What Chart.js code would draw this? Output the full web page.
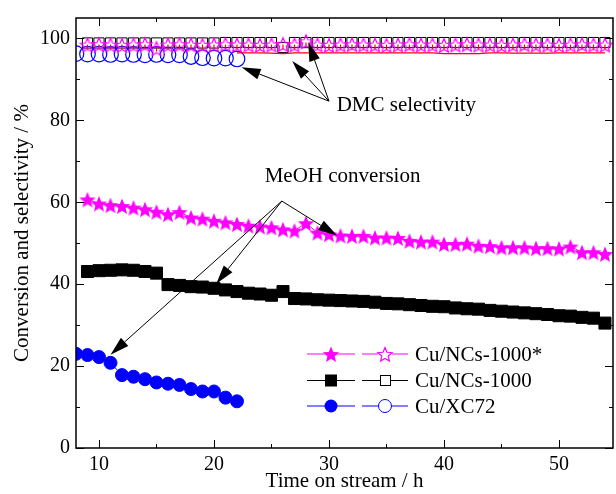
<!DOCTYPE html>
<html>
<head>
<meta charset="utf-8">
<script src="https://cdn.jsdelivr.net/npm/chart.js@4.4.1/dist/chart.umd.min.js"></script>
<style>
  html, body { margin: 0; padding: 0; background: #fff; }
  #wrap { width: 616px; height: 494px; }
</style>
</head>
<body>
<div id="wrap"><canvas id="c" width="616" height="494"></canvas></div>
<script>
// Stability test: MeOH conversion (filled) and DMC selectivity (open) vs time on stream
const hoursLong = [9, 10, 11, 12, 13, 14, 15, 16, 17, 18, 19, 20, 21, 22, 23, 24, 25, 26, 27, 28, 29, 30, 31,
  32, 33, 34, 35, 36, 37, 38, 39, 40, 41, 42, 43, 44, 45, 46, 47, 48, 49, 50, 51, 52, 53, 54]
const hoursShort = [8, 9, 10, 11, 12, 13, 14, 15, 16, 17, 18, 19, 20, 21, 22]
const hoursRedLine = [22, 23, 24, 25, 26, 27, 28, 29, 30, 31, 32, 33, 34, 35, 36, 37, 38, 39, 40, 41, 42, 43,
  44, 45, 46, 47, 48, 49, 50, 51, 52, 53, 54]

// MeOH conversion, %
const convNCs1000s = [60.7, 59.7, 59.3, 59.1, 58.7, 58.3, 57.7, 57.1, 57.6, 56.3, 56.0, 55.5, 55.1, 54.7, 54.3,
  54.1, 53.9, 53.4, 53.1, 54.9, 52.6, 52.2, 51.9, 51.8, 51.8, 51.4, 51.4, 51.3, 50.6, 50.4, 50.4, 49.8, 49.8,
  49.9, 49.4, 49.3, 49.0, 49.0, 49.0, 48.8, 48.8, 48.7, 49.2, 47.8, 47.8, 47.4]
const convNCs1000 = [43.1, 43.3, 43.4, 43.5, 43.4, 43.1, 42.7, 39.9, 39.7, 39.4, 39.3, 39.0, 38.6, 38.2, 37.8,
  37.6, 37.3, 38.2, 36.5, 36.4, 36.2, 36.1, 36.0, 35.9, 35.8, 35.6, 35.3, 35.2, 35.0, 34.8, 34.6, 34.5, 34.2,
  34.0, 33.9, 33.6, 33.4, 33.2, 33.0, 32.8, 32.6, 32.3, 32.2, 31.9, 31.7, 30.5]
const convXC72 = [23.0, 22.7, 22.2, 20.8, 17.8, 17.4, 16.8, 16.0, 15.7, 15.4, 14.4, 13.8, 13.8, 12.3, 11.4]

// DMC selectivity, %
const selNCs1000s = [98.5, 98.6, 98.5, 98.4, 98.5, 98.6, 97.6, 98.5, 98.6, 98.5, 98.4, 98.5, 98.6, 98.5, 98.5,
  98.4, 98.5, 98.6, 98.5, 99.3, 98.5, 98.4, 98.5, 98.6, 98.5, 98.5, 98.4, 98.5, 98.6, 98.5, 98.5, 98.4, 98.5,
  98.6, 98.5, 98.5, 98.4, 98.5, 98.6, 98.5, 98.5, 98.4, 98.5, 98.6, 98.5, 98.5]
const selNCs1000 = [98.9, 98.9, 98.9, 98.9, 98.9, 98.9, 98.9, 98.9, 98.9, 98.9, 98.9, 98.9, 99.0, 99.0, 99.0,
  99.0, 99.0, 97.8, 99.0, 99.0, 99.0, 99.0, 99.0, 99.0, 99.0, 99.0, 99.0, 99.0, 99.0, 99.0, 99.0, 99.0, 99.0,
  99.0, 99.0, 99.0, 99.0, 99.0, 99.0, 99.0, 99.0, 99.0, 99.0, 99.0, 99.0, 99.0]
const selXC72 = [96.3, 96.2, 96.2, 96.1, 96.2, 96.1, 96.0, 96.1, 96.0, 96.0, 95.6, 95.3, 95.2, 95.2, 95.0]
const selRedMarks = [97.9, 97.9, 97.9, 97.9, 97.9, 97.9, 97.4, 97.9, 97.9, 97.9, 97.9, 97.9, 97.9, 97.9, 97.9,
  97.9, 97.9, 97.9, 97.9, 98.4, 97.9, 97.9, 97.9, 97.9, 97.9, 97.9, 97.9, 97.9, 97.9, 97.9, 97.9, 97.9, 97.9,
  97.9, 97.9, 97.9, 97.9, 97.9, 97.9, 97.9, 97.9, 97.9, 97.9, 97.9, 97.9, 97.9]
const selRedLine = [96.5, 96.5, 96.5, 96.4, 96.3, 96.5, 96.5, 96.5, 96.5, 96.5, 96.5, 96.5, 96.5, 96.5, 96.5,
  96.5, 96.5, 96.5, 96.3, 96.3, 96.3, 96.3, 96.5, 96.5, 96.4, 96.4, 96.4, 96.4, 96.5, 96.5, 96.5, 96.5, 96.5]

const legendLabels = ['Cu/NCs-1000*', 'Cu/NCs-1000', 'Cu/XC72']
const xMajor = [10, 20, 30, 40, 50]
const xMinor = [15, 25, 35, 45]
const yMajor = [0, 20, 40, 60, 80, 100]
const yMinor = [10, 30, 50, 70, 90]

const MAG = '#ff00ff', BLU = '#0000ff', BLK = '#000000', RED = '#ff0000'
const FONT = "'Liberation Serif', 'Times New Roman', serif"

function pts(xs, ys) { return xs.map((x, i) => ({ x, y: ys[i] })) }

function starImage(r, filled, color) {
  const c = document.createElement('canvas')
  const s = Math.ceil(r * 2 + 3)
  c.width = s; c.height = s
  const g = c.getContext('2d')
  g.beginPath()
  for (let i = 0; i < 10; i++) {
    const a = -Math.PI / 2 + i * Math.PI / 5
    const rr = i % 2 ? r * 0.45 : r
    g.lineTo(s / 2 + rr * Math.cos(a), s / 2 + 1 + rr * Math.sin(a))
  }
  g.closePath()
  if (filled) { g.fillStyle = color; g.fill() } else { g.strokeStyle = color; g.lineWidth = 1.2; g.stroke() }
  return c
}
const starFilled = starImage(8.5, true, MAG)
const starOpen = starImage(7.5, false, MAG)

function arrow(ctx, x0, y0, x1, y1) {
  const ang = Math.atan2(y1 - y0, x1 - x0), L = 19, W = 5.5
  const bx = x1 - L * Math.cos(ang), by = y1 - L * Math.sin(ang)
  ctx.beginPath(); ctx.moveTo(x0, y0); ctx.lineTo(bx, by); ctx.stroke()
  ctx.beginPath()
  ctx.moveTo(x1, y1)
  ctx.lineTo(bx + W * Math.sin(ang), by - W * Math.cos(ang))
  ctx.lineTo(bx - W * Math.sin(ang), by + W * Math.cos(ang))
  ctx.closePath(); ctx.fill()
}

// frame with inward ticks on all four sides
const framePlugin = {
  id: 'frame',
  afterDatasetsDraw(chart) {
    const { ctx, chartArea: a, scales: { x, y } } = chart
    ctx.save()
    ctx.strokeStyle = BLK
    ctx.lineWidth = 1
    ctx.beginPath()
    const tx = (v, len) => {
      const p = Math.round(x.getPixelForValue(v)) + 0.5
      ctx.moveTo(p, a.bottom); ctx.lineTo(p, a.bottom - len)
      ctx.moveTo(p, a.top); ctx.lineTo(p, a.top + len)
    }
    const ty = (v, len) => {
      const p = Math.round(y.getPixelForValue(v)) + 0.5
      ctx.moveTo(a.left, p); ctx.lineTo(a.left + len, p)
      ctx.moveTo(a.right, p); ctx.lineTo(a.right - len, p)
    }
    xMajor.forEach(v => tx(v, 8)); xMinor.forEach(v => tx(v, 4))
    yMajor.forEach(v => ty(v, 8)); yMinor.forEach(v => ty(v, 4))
    ctx.stroke()
    ctx.lineWidth = 1.5
    ctx.strokeRect(a.left, a.top, a.right - a.left, a.bottom - a.top)
    ctx.restore()
  }
}

// arrows, labels and the two-marker legend
const notesPlugin = {
  id: 'notes',
  afterDraw(chart) {
    const { ctx, scales: { x, y } } = chart
    const px = v => x.getPixelForValue(v), py = v => y.getPixelForValue(v)
    ctx.save()
    ctx.strokeStyle = BLK; ctx.fillStyle = BLK; ctx.lineWidth = 1
    const dmcFrom = [30.0, 84.7]
    ;[[22.4, 93.0], [26.8, 94.5], [28.2, 99.1]].forEach(t => arrow(ctx, px(dmcFrom[0]), py(dmcFrom[1]), px(t[0]), py(t[1])))
    const meohFrom = [25.9, 60.3]
    ;[[30.7, 51.9], [20.2, 40.1], [11.0, 22.8]].forEach(t => arrow(ctx, px(meohFrom[0]), py(meohFrom[1]), px(t[0]), py(t[1])))
    ctx.font = '21px ' + FONT
    ctx.textBaseline = 'middle'; ctx.textAlign = 'left'
    ctx.fillText('DMC selectivity', px(30.67), py(83.7))
    ctx.fillText('MeOH conversion', px(24.41), py(66.3))

    // legend
    const rows = [354, 380.5, 406]
    const colors = [MAG, BLK, BLU]
    rows.forEach((ry, i) => {
      const c = colors[i]
      ctx.strokeStyle = c; ctx.fillStyle = c; ctx.lineWidth = 1
      ctx.beginPath()
      ctx.moveTo(307, ry); ctx.lineTo(355, ry)
      ctx.moveTo(362, ry); ctx.lineTo(408, ry)
      ctx.stroke()
      if (i === 0) {
        ctx.drawImage(starFilled, 331 - starFilled.width / 2, ry - starFilled.height / 2)
        ctx.fillStyle = '#fff'
        ctx.fillRect(385 - 7, ry - 7, 14, 14)
        ctx.drawImage(starOpen, 385 - starOpen.width / 2, ry - starOpen.height / 2)
      } else if (i === 1) {
        ctx.fillRect(325, ry - 6, 12, 12)
        ctx.fillStyle = '#fff'; ctx.fillRect(380, ry - 5, 10, 10)
        ctx.strokeRect(380.5, ry - 5, 10, 10)
      } else {
        ctx.beginPath(); ctx.arc(331, ry, 6.5, 0, Math.PI * 2); ctx.fill()
        ctx.fillStyle = '#fff'
        ctx.beginPath(); ctx.arc(385, ry, 6.5, 0, Math.PI * 2); ctx.fill(); ctx.stroke()
      }
      ctx.fillStyle = BLK
      ctx.font = '21px ' + FONT
      ctx.fillText(legendLabels[i], 415, ry + 1)
    })
    ctx.restore()
  }
}

new Chart(document.getElementById('c'), {
  type: 'scatter',
  data: {
    datasets: [
      { label: legendLabels[0] + ' sel', data: pts(hoursLong, selNCs1000s), pointStyle: starOpen, showLine: false },
      { label: 'red marks', data: pts(hoursLong, selRedMarks), pointStyle: 'line', rotation: 90, pointRadius: 2.5,
        borderColor: RED, borderWidth: 1.2, showLine: false },
      { label: 'red line', data: pts(hoursRedLine, selRedLine), pointRadius: 0, showLine: true, borderColor: RED,
        borderWidth: 1.3 },
      { label: legendLabels[2] + ' sel', data: pts(hoursShort, selXC72), pointStyle: 'circle', pointRadius: 7.8,
        borderColor: BLU, backgroundColor: 'rgba(0,0,0,0)', borderWidth: 1.2, showLine: false },
      { label: legendLabels[1] + ' sel', data: pts(hoursLong, selNCs1000), pointStyle: 'rect', pointRadius: 7.2,
        borderColor: BLK, backgroundColor: 'rgba(0,0,0,0)', borderWidth: 1, showLine: false },
      { label: legendLabels[0], data: pts(hoursLong, convNCs1000s), pointStyle: starFilled, showLine: true,
        borderColor: MAG, borderWidth: 1 },
      { label: legendLabels[1], data: pts(hoursLong, convNCs1000), pointStyle: 'rect', pointRadius: 8.5,
        borderColor: BLK, backgroundColor: BLK, borderWidth: 1, showLine: true },
      { label: legendLabels[2], data: pts(hoursShort, convXC72), pointStyle: 'circle', pointRadius: 6.5,
        borderColor: BLU, backgroundColor: BLU, borderWidth: 1, showLine: true }
    ]
  },
  options: {
    responsive: false,
    animation: false,
    devicePixelRatio: 1,
    layout: { autoPadding: false, padding: { top: 13, right: 3, left: 0, bottom: 0 } },
    plugins: { legend: { display: false }, tooltip: { enabled: false } },
    elements: { point: { hoverRadius: 0 } },
    scales: {
      x: {
        type: 'linear', min: 8, max: 54.7,
        grid: { display: false, drawTicks: false }, border: { display: false },
        afterBuildTicks: s => { s.ticks = xMajor.map(v => ({ value: v })) },
        afterFit: s => { s.height = 46 },
        ticks: { font: { family: FONT, size: 20 }, color: BLK, padding: 5, maxRotation: 0 },
        title: { display: true, text: 'Time on stream / h', font: { family: FONT, size: 21 }, color: BLK,
          padding: { top: 0, bottom: 0 } }
      },
      y: {
        type: 'linear', min: 0, max: 105,
        grid: { display: false, drawTicks: false }, border: { display: false },
        afterBuildTicks: s => { s.ticks = yMajor.map(v => ({ value: v })) },
        afterFit: s => { s.width = 76 },
        ticks: { font: { family: FONT, size: 20 }, color: BLK, padding: 6 },
        title: { display: true, text: 'Conversion and selectivity / %', font: { family: FONT, size: 21 },
          color: BLK, padding: { top: 10, bottom: 0 } }
      }
    }
  },
  plugins: [framePlugin, notesPlugin]
})
</script>
</body>
</html>
